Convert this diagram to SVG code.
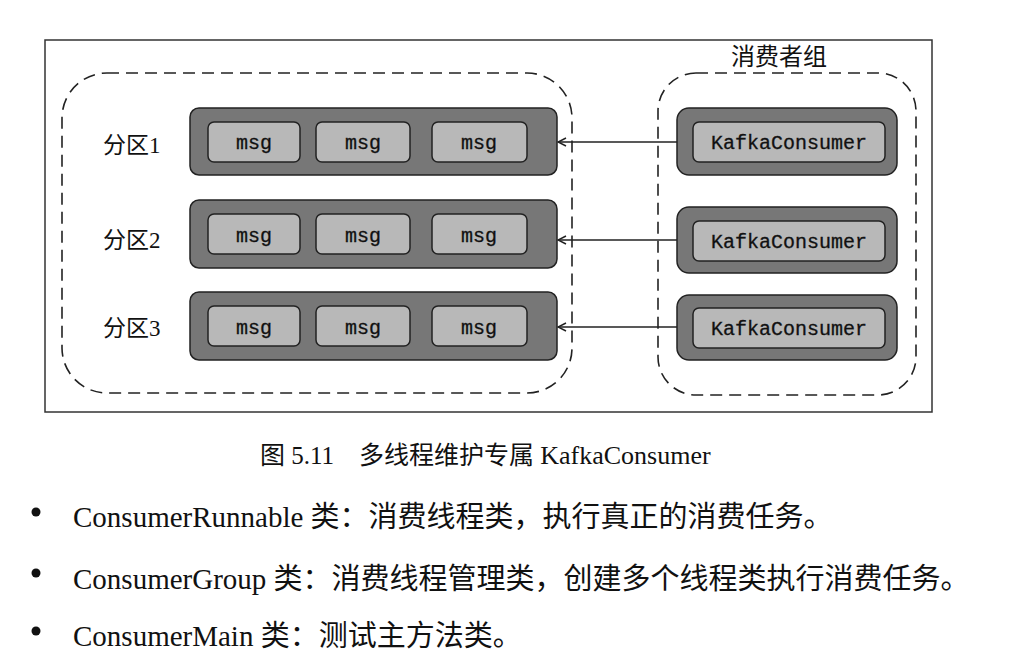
<svg xmlns="http://www.w3.org/2000/svg" width="1010" height="659" viewBox="0 0 1010 659">
<defs>
<style>
.frame{fill:none;stroke:#333;stroke-width:1.5}
.dash{fill:none;stroke:#222;stroke-width:1.6;stroke-dasharray:12 7}
.bar{fill:#777;stroke:#222;stroke-width:1.5}
.cell{fill:#b8b8b8;stroke:#222;stroke-width:1.5}
.mono{font-family:"Liberation Mono","DejaVu Sans Mono",monospace;font-size:20px;fill:#111;stroke:#111;stroke-width:0.3;text-anchor:middle;dominant-baseline:central}
.lbl{font-family:"Liberation Serif","Noto Sans CJK SC",serif;font-size:23px;fill:#111;dominant-baseline:central}
.cap{font-family:"Liberation Serif","Noto Sans CJK SC",serif;font-size:25px;fill:#111}
.txt{font-family:"Liberation Serif","Noto Sans CJK SC",serif;font-size:29px;fill:#111}
.conn{stroke:#222;stroke-width:1.5;fill:none}
</style>
<marker id="ah" viewBox="0 0 10 10" refX="9" refY="5" markerWidth="10" markerHeight="10" markerUnits="userSpaceOnUse" orient="auto">
<path d="M1,1 L9,5 L1,9" fill="none" stroke="#222" stroke-width="1.5"/>
</marker>
</defs>
<rect width="1010" height="659" fill="#fff"/>
<rect class="frame" x="45" y="40" width="887" height="372"/>
<g id="partitions-group">
<rect class="dash" x="62" y="73" width="510" height="320" rx="45" ry="45"/>
</g>
<g id="consumer-group">
<rect class="dash" x="658" y="73" width="258" height="322" rx="38" ry="38"/>
<text class="lbl" x="779" y="57" text-anchor="middle" style="font-size:24px">消费者组</text>
</g>
<g id="partition1">
<text class="lbl" x="103" y="145">分区1</text>
<rect class="bar" x="190" y="108" width="367" height="67" rx="9"/>
<rect class="cell" x="208" y="122" width="92" height="40" rx="6"/>
<rect class="cell" x="316" y="122" width="94" height="40" rx="6"/>
<rect class="cell" x="432" y="122" width="95" height="40" rx="6"/>
<text class="mono" x="254" y="143">msg</text>
<text class="mono" x="363" y="143">msg</text>
<text class="mono" x="479" y="143">msg</text>
</g>
<g id="partition2">
<text class="lbl" x="103" y="240">分区2</text>
<rect class="bar" x="190" y="200" width="367" height="68" rx="9"/>
<rect class="cell" x="208" y="214" width="92" height="40" rx="6"/>
<rect class="cell" x="316" y="214" width="94" height="40" rx="6"/>
<rect class="cell" x="432" y="214" width="95" height="40" rx="6"/>
<text class="mono" x="254" y="236">msg</text>
<text class="mono" x="363" y="236">msg</text>
<text class="mono" x="479" y="236">msg</text>
</g>
<g id="partition3">
<text class="lbl" x="103" y="328">分区3</text>
<rect class="bar" x="190" y="292" width="367" height="68" rx="9"/>
<rect class="cell" x="208" y="306" width="92" height="40" rx="6"/>
<rect class="cell" x="316" y="306" width="94" height="40" rx="6"/>
<rect class="cell" x="432" y="306" width="95" height="40" rx="6"/>
<text class="mono" x="254" y="328">msg</text>
<text class="mono" x="363" y="328">msg</text>
<text class="mono" x="479" y="328">msg</text>
</g>
<g id="consumer1">
<rect class="bar" x="677" y="108" width="220" height="67" rx="12"/>
<rect class="cell" x="693" y="122" width="192" height="40" rx="6"/>
<text class="mono" x="789" y="143">KafkaConsumer</text>
</g>
<g id="consumer2">
<rect class="bar" x="677" y="207" width="220" height="66" rx="12"/>
<rect class="cell" x="693" y="221" width="192" height="40" rx="6"/>
<text class="mono" x="789" y="242">KafkaConsumer</text>
</g>
<g id="consumer3">
<rect class="bar" x="677" y="295" width="220" height="65" rx="12"/>
<rect class="cell" x="693" y="308" width="192" height="40" rx="6"/>
<text class="mono" x="789" y="329">KafkaConsumer</text>
</g>
<g id="connectors">
<line class="conn" x1="677" y1="142" x2="558" y2="142" marker-end="url(#ah)"/>
<line class="conn" x1="677" y1="240" x2="558" y2="240" marker-end="url(#ah)"/>
<line class="conn" x1="677" y1="327" x2="558" y2="327" marker-end="url(#ah)"/>
</g>
<g id="caption">
<text class="cap" x="260" y="464">图 5.11<tspan x="359">多线程维护专属 <tspan style="font-size:26px">KafkaConsumer</tspan></tspan></text>
</g>
<g id="bullets">
<circle cx="36" cy="512" r="4.5" fill="#111"/>
<circle cx="36" cy="573" r="4.5" fill="#111"/>
<circle cx="36" cy="631" r="4.5" fill="#111"/>
<text class="txt" x="73" y="527">ConsumerRunnable 类：消费线程类，执行真正的消费任务。</text>
<text class="txt" x="73" y="589">ConsumerGroup 类：消费线程管理类，创建多个线程类执行消费任务。</text>
<text class="txt" x="73" y="646">ConsumerMain 类：测试主方法类。</text>
</g>
</svg>
